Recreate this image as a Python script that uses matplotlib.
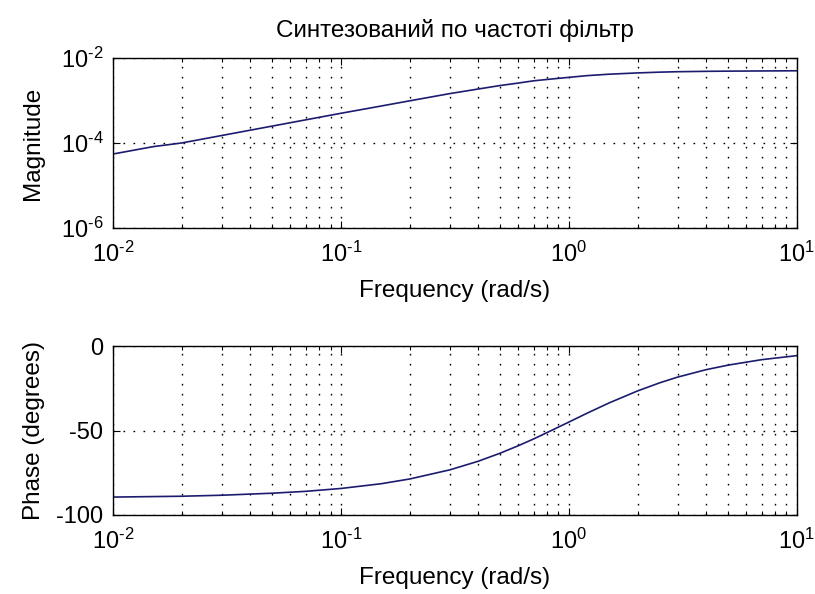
import numpy as np
import matplotlib.pyplot as plt
from matplotlib.ticker import LogLocator, NullLocator, FixedLocator, FuncFormatter

plt.rcParams['font.family'] = ['Liberation Sans', 'DejaVu Sans']
plt.rcParams['mathtext.fontset'] = 'custom'
plt.rcParams['mathtext.rm'] = 'Liberation Sans'
plt.rcParams['mathtext.it'] = 'Liberation Sans'

# Частотні точки (rad/s) та відгук фільтра
w = [0.01, 0.015, 0.02, 0.03, 0.05, 0.07, 0.1, 0.15, 0.2, 0.3, 0.4, 0.5, 0.6, 0.7,
     0.8, 1.0, 1.2, 1.5, 2.0, 2.5, 3.0, 4.0, 5.0, 7.0, 10.0]
mag = [5.5e-5, 8.2e-5, 1.0e-4, 1.5e-4, 2.5e-4, 3.5e-4, 5.0e-4, 7.4e-4, 9.8e-4,
       1.45e-3, 1.86e-3, 2.25e-3, 2.57e-3, 2.9e-3, 3.12e-3, 3.5e-3, 3.84e-3,
       4.15e-3, 4.45e-3, 4.64e-3, 4.75e-3, 4.85e-3, 4.9e-3, 4.95e-3, 5.0e-3]
phase = [-89.4, -89.1, -88.9, -88.3, -87.1, -86.0, -84.3, -81.5, -78.7, -73.3,
         -68.2, -63.4, -59.0, -55.0, -51.3, -45.0, -39.8, -33.7, -26.6, -21.8,
         -18.4, -14.0, -11.3, -8.1, -5.7]

line_color = '#1c1c6e'
tick_fs = 17
label_fs = 17.5
dots = (0, (1.2, 6))


def pow10(v, pos):
    # степінь десяти з коротким дефісом замість мінуса
    e = int(round(np.log10(v)))
    return r'$10^{\text{%d}}$' % e


fig = plt.figure(figsize=(8.15, 5.94), dpi=100)
ax1 = fig.add_axes([0.1387, 0.6162, 0.839, 0.2862])
ax2 = fig.add_axes([0.1387, 0.133, 0.839, 0.2845])

ax1.loglog(w, mag, color=line_color, lw=1.2)
ax1.set_ylim(1e-6, 1e-2)
ax1.yaxis.set_major_locator(FixedLocator([1e-6, 1e-4, 1e-2]))
ax1.yaxis.set_minor_locator(NullLocator())
ax1.yaxis.set_major_formatter(FuncFormatter(pow10))
ax1.set_ylabel('Magnitude', fontsize=label_fs, labelpad=12)
ax1.set_title('Синтезований по частоті фільтр', fontsize=label_fs, pad=15)

ax2.semilogx(w, phase, color=line_color, lw=1.2)
ax2.set_ylim(-100, 0)
ax2.set_yticks([-100, -50, 0])
ax2.set_yticklabels(['-100', '-50', '0'])
ax2.set_ylabel('Phase (degrees)', fontsize=label_fs, labelpad=8)

for ax in (ax1, ax2):
    ax.set_xlim(0.01, 10)
    ax.xaxis.set_major_locator(LogLocator(base=10, numticks=10))
    ax.xaxis.set_minor_locator(LogLocator(base=10, subs=range(2, 10), numticks=10))
    ax.xaxis.set_major_formatter(FuncFormatter(pow10))
    ax.grid(True, which='major', axis='both', color='k', linestyle=dots, lw=1.0)
    ax.grid(True, which='minor', axis='x', color='k', linestyle=dots, lw=1.0)
    ax.tick_params(which='both', direction='in', top=True, right=True,
                   labelsize=tick_fs, width=0.8)
    ax.tick_params(which='major', length=5)
    ax.tick_params(which='minor', length=3)
    ax.tick_params(axis='x', pad=10)
    ax.tick_params(axis='y', pad=7)
    ax.set_xlabel('Frequency (rad/s)', fontsize=label_fs, labelpad=9)
    for s in ax.spines.values():
        s.set_linewidth(1.0)

fig.savefig('out.png', dpi=100, facecolor='white')
